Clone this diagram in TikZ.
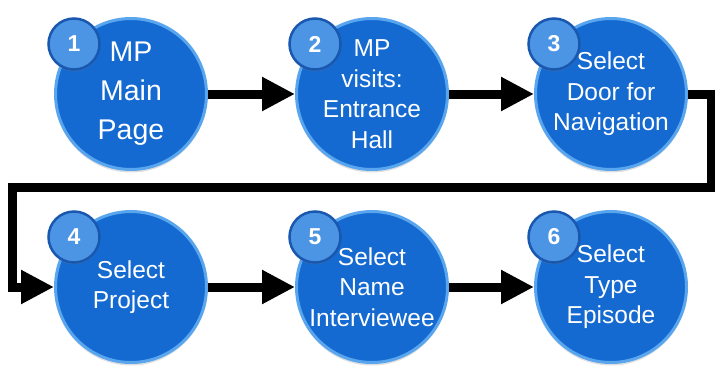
\documentclass[tikz,border=0pt]{standalone}
\usepackage{fontspec}
\setmainfont{Liberation Sans}
\usetikzlibrary{calc, shadows, arrows.meta}
\definecolor{stepblue}{RGB}{20,106,208}
\definecolor{stepedge}{RGB}{90,166,238}
\definecolor{badgeblue}{RGB}{76,148,228}
\definecolor{badgeedge}{RGB}{26,88,176}
\tikzset{
	mycircle/.style={circle, fill=stepblue, draw=stepedge, line width=3pt, minimum size=151pt,
				inner sep=0pt, text=white, align=center,
				font=\fontsize{24.5}{30.5}\selectfont,
				drop shadow={shadow xshift=0pt, shadow yshift=-3pt, opacity=0.25}
				},
	mybadge/.style={circle, fill=badgeblue, draw=badgeedge, line width=2.5pt, minimum size=51pt,
				inner sep=0pt, text=white, font=\fontsize{23}{23}\selectfont\bfseries,
				drop shadow={shadow xshift=0pt, shadow yshift=-2pt, opacity=0.25}
				},
	myarrow/.style={-{Triangle[length=33pt, width=32pt]}, black, line width=9pt, line join=miter
				}
	}

\begin{document}
\begin{tikzpicture}[x=1pt, y=-1pt]

				\useasboundingbox (0,0) rectangle (715,370);

				% first row
				\node[mycircle, font=\fontsize{28.5}{39}\selectfont] (mainpage) at (131,94) {MP\\Main\\Page};
				\node[mycircle] (entrance) at (372,94) {MP\\visits:\\Entrance\\Hall};
				\node[mycircle] (door) at (611,94) {Select\\Door for\\Navigation};

				% second row
				\node[mycircle] (project) at (131,287) {Select\\Project};
				\node[mycircle] (interviewee) at (372,287) {Select\\Name\\Interviewee};
				\node[mycircle] (episode) at (611,287) {Select\\Type\\Episode};

				% step numbers
				\node[mybadge] (mainpageb) at ($(mainpage) + (-57,-50)$) {1};
				\node[mybadge] (entranceb) at ($(entrance) + (-57,-50)$) {2};
				\node[mybadge] (doorb) at ($(door) + (-57,-50)$) {3};
				\node[mybadge] (projectb) at ($(project) + (-57,-50)$) {4};
				\node[mybadge] (intervieweeb) at ($(interviewee) + (-57,-50)$) {5};
				\node[mybadge] (episodeb) at ($(episode) + (-57,-50)$) {6};

				\coordinate (turnright) at (711,187);
				\coordinate (turnleft) at (12,187);

				\draw[myarrow] (mainpage) -- (entrance);
				\draw[myarrow] (entrance) -- (door);

				\draw[myarrow] (door.east) -| (turnright) -- (turnleft) |- (project.west);

				\draw[myarrow] (project) -- (interviewee);
				\draw[myarrow] (interviewee) -- (episode);

\end{tikzpicture}
\end{document}
